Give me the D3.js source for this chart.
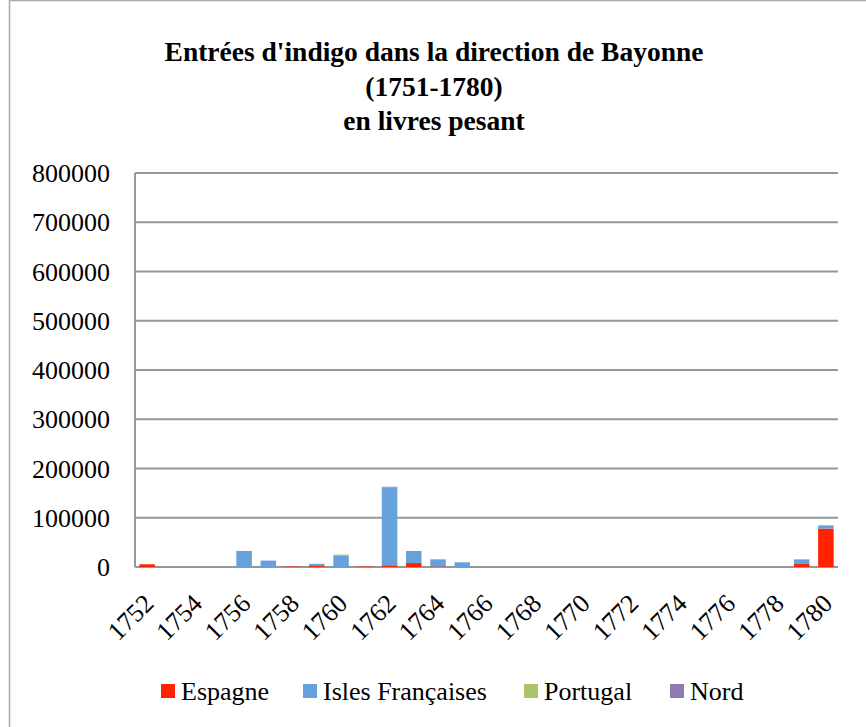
<!DOCTYPE html>
<html>
<head>
<meta charset="utf-8">
<script src="https://cdn.jsdelivr.net/npm/d3@7"></script>
<style>
  body { margin: 0; background: #fff; }
  svg { display: block; }
</style>
</head>
<body>
<div id="top_div"></div>
<script>
var years = d3.range(1752, 1781).map(String);
var tickYears = years.filter((d, i) => i % 2 === 0);
var seriesNames = ['Espagne', 'Isles Françaises', 'Portugal', 'Nord'];
var seriesColors = ['#ff2200', '#66a1dc', '#a9c46a', '#9179b4'];
var espagne  = [5500, 0, 0, 0, 0, 0, 1000, 2000, 0, 1000, 3500, 8000, 1000, 0, 0, 0, 0, 0, 0, 0, 0, 0, 0, 0, 0, 0, 0, 6000, 78000];
var isles    = [0, 400, 400, 0, 32500, 13000, 0, 4500, 23700, 0, 158000, 24500, 14500, 9500, 500, 400, 400, 0, 0, 0, 400, 400, 400, 400, 400, 0, 0, 9500, 6500];
var portugal = [0, 0, 0, 0, 0, 0, 0, 0, 1500, 0, 0, 0, 500, 0, 0, 0, 0, 0, 0, 0, 0, 0, 0, 0, 0, 0, 0, 0, 0];
var nord     = [0, 0, 0, 0, 0, 0, 0, 0, 0, 0, 1500, 0, 0, 0, 0, 0, 0, 0, 0, 0, 0, 0, 0, 0, 0, 0, 0, 0, 0];
var yTicks = [0, 100000, 200000, 300000, 400000, 500000, 600000, 700000, 800000];
var titleLines = ["Entrées d'indigo dans la direction de Bayonne", '(1751-1780)', 'en livres pesant'];

var width = 866, height = 727;
// plot area (avoid the name "top", it is window.top)
var plotL = 135, plotR = 838, plotT = 173, plotB = 567;

var vis = d3.select('#top_div')
    .append('svg')
      .attr('width', width)
      .attr('height', height);

// frame (only the left and top edges show)
vis.append('line').attr('x1', 9.5).attr('x2', 9.5).attr('y1', 0).attr('y2', height).attr('stroke', '#aaa').attr('stroke-width', 1.5);
vis.append('line').attr('x1', 9).attr('x2', width).attr('y1', 0.5).attr('y2', 0.5).attr('stroke', '#aaa').attr('stroke-width', 1.5);

vis.append('text')
    .attr('text-anchor', 'middle')
    .attr('font-family', '"Liberation Serif", serif')
    .attr('font-weight', 'bold')
    .attr('font-size', '27.5px')
    .selectAll('tspan')
    .data(titleLines)
    .enter().append('tspan')
      .attr('x', 434)
      .attr('y', (d, i) => 61 + i * 34.5)
      .text((d) => d);

var rows = years.map((y, i) => ({
  year: y,
  'Espagne': espagne[i],
  'Isles Françaises': isles[i],
  'Portugal': portugal[i],
  'Nord': nord[i]
}));
var stacked = d3.stack().keys(seriesNames)(rows);

var x = d3.scaleBand().domain(years).range([plotL, plotR]).paddingInner(0.36).paddingOuter(0.18);
var y = d3.scaleLinear().domain([0, 800000]).range([plotB, plotT]);

// gridlines
vis.append('g')
    .selectAll('line')
    .data(yTicks)
    .enter().append('line')
      .attr('x1', plotL)
      .attr('x2', plotR)
      .attr('y1', (d) => y(d))
      .attr('y2', (d) => y(d))
      .attr('stroke', '#979797')
      .attr('stroke-width', 2);

vis.append('line')
    .attr('x1', plotL).attr('x2', plotL)
    .attr('y1', plotT).attr('y2', plotB)
    .attr('stroke', '#979797').attr('stroke-width', 2);

// y labels
vis.append('g')
    .selectAll('text')
    .data(yTicks)
    .enter().append('text')
      .attr('x', 110)
      .attr('y', (d) => y(d) + 9)
      .attr('text-anchor', 'end')
      .attr('font-family', '"Liberation Serif", serif')
      .attr('font-size', '26px')
      .attr('fill', '#000')
      .text((d) => d);

// bars
vis.append('g')
    .selectAll('g')
    .data(stacked)
    .enter().append('g')
      .attr('fill', (d, i) => seriesColors[i])
    .selectAll('rect')
    .data((d) => d)
    .enter().append('rect')
      .attr('x', (d) => x(d.data.year))
      .attr('width', x.bandwidth())
      .attr('y', (d) => y(d[1]))
      .attr('height', (d) => y(d[0]) - y(d[1]));

// x labels
vis.append('g')
    .selectAll('text')
    .data(tickYears)
    .enter().append('text')
      .attr('transform', (d) => 'translate(' + (x(d) + x.bandwidth() / 2 + 8) + ',' + 605 + ') rotate(-45)')
      .attr('text-anchor', 'end')
      .attr('font-family', '"Liberation Serif", serif')
      .attr('font-size', '26px')
      .attr('fill', '#000')
      .text((d) => d);

// legend
var legendX = [161, 303, 524, 670];
var legend = vis.append('g')
    .selectAll('g')
    .data(seriesNames)
    .enter().append('g')
      .attr('transform', (d, i) => 'translate(' + legendX[i] + ',684)');
legend.append('rect')
    .attr('width', 14)
    .attr('height', 14)
    .attr('fill', (d, i) => seriesColors[i]);
legend.append('text')
    .attr('x', 20)
    .attr('y', 16)
    .attr('font-family', '"Liberation Serif", serif')
    .attr('font-size', '26px')
    .attr('fill', '#000')
    .text((d) => d);
</script>
</body>
</html>
